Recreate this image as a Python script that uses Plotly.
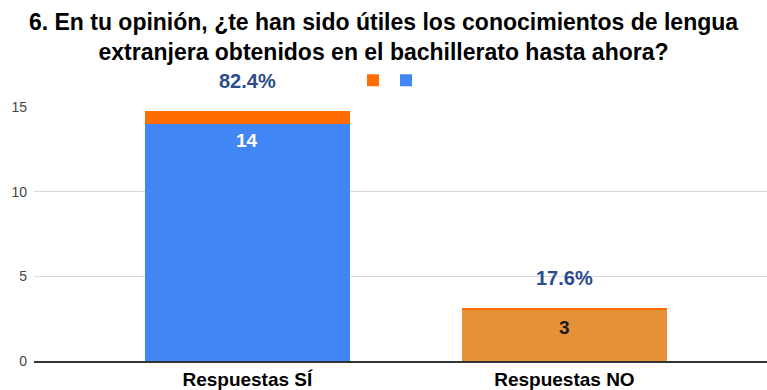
import plotly.graph_objects as go

# Survey answers
categories = ["Respuestas SÍ", "Respuestas NO"]
counts = [14, 3]
top_segment = [0.76, 0.12]
bar_colors = ["#4285F4", "#E69138"]
count_text_colors = ["#FFFFFF", "#1A1A1A"]
y_ticks = [0, 5, 10, 15]
title_lines = [
    "6. En tu opinión, ¿te han sido útiles los conocimientos de lengua",
    "extranjera obtenidos en el bachillerato hasta ahora?",
]

total = sum(counts)
percent_labels = [f"{c / total * 100:.1f}%" for c in counts]
stack_tops = [c + t for c, t in zip(counts, top_segment)]

FONT = "Liberation Sans, Arial, sans-serif"
PLOT_LEFT, PLOT_RIGHT = 34, 767
PLOT_TOP, PLOT_BOTTOM = 107, 363


def paper_y(px):
    """Convert a pixel row of the page into paper y."""
    return (PLOT_BOTTOM - px) / (PLOT_BOTTOM - PLOT_TOP)


def paper_x(px):
    """Convert a pixel column of the page into paper x."""
    return (px - PLOT_LEFT) / (PLOT_RIGHT - PLOT_LEFT)


fig = go.Figure()
fig.add_trace(go.Bar(
    x=categories, y=counts, name=" ",
    marker=dict(color=bar_colors, line_width=0),
    width=0.647, showlegend=True, legend="legend2",
))
fig.add_trace(go.Bar(
    x=categories, y=top_segment, name=" ",
    marker=dict(color="#FF6D01", line_width=0),
    width=0.647, showlegend=True, legend="legend",
))

# count labels inside the bars
for cat, c, col in zip(categories, counts, count_text_colors):
    fig.add_annotation(
        x=cat, y=c, text=f"<b>{c}</b>", showarrow=False,
        yanchor="middle", yshift=-17,
        font=dict(family=FONT, size=19, color=col),
    )

# share labels above the bars
for cat, top, lab in zip(categories, stack_tops, percent_labels):
    fig.add_annotation(
        x=cat, y=top, text=f"<b>{lab}</b>", showarrow=False,
        yanchor="middle", yshift=30,
        font=dict(family=FONT, size=20, color="#2B4C8C"),
    )

legend_common = dict(
    orientation="h", xanchor="center", yanchor="middle", y=paper_y(80),
    bgcolor="rgba(0,0,0,0)", font=dict(family=FONT, size=12),
    itemwidth=30, entrywidth=1, entrywidthmode="pixels",
)

fig.update_layout(
    width=767, height=390,
    margin=dict(l=PLOT_LEFT, r=767 - PLOT_RIGHT, t=PLOT_TOP, b=390 - PLOT_BOTTOM),
    paper_bgcolor="white", plot_bgcolor="white",
    barmode="stack",
    title=dict(
        text="<b>" + "<br>".join(title_lines) + "</b>",
        x=0.5, xanchor="center", y=1 - 30 / 390, yanchor="middle",
        font=dict(family=FONT, size=23, color="#000000"),
    ),
    legend=dict(x=paper_x(376), **legend_common),
    legend2=dict(x=paper_x(409), **legend_common),
    xaxis=dict(
        range=[-0.673, 1.639], showgrid=False, ticks="",
        tickfont=dict(family=FONT, size=19, color="#000000", weight="bold"),
        showline=True, linecolor="#333333", linewidth=2,
    ),
    yaxis=dict(
        range=[0, 15], tickvals=y_ticks, showgrid=True,
        gridcolor="#D9D9D9", gridwidth=1, zeroline=False,
        tickfont=dict(family=FONT, size=14, color="#444444"),
        ticks="", ticklabelstandoff=6,
    ),
)

fig.write_html("out.html")
